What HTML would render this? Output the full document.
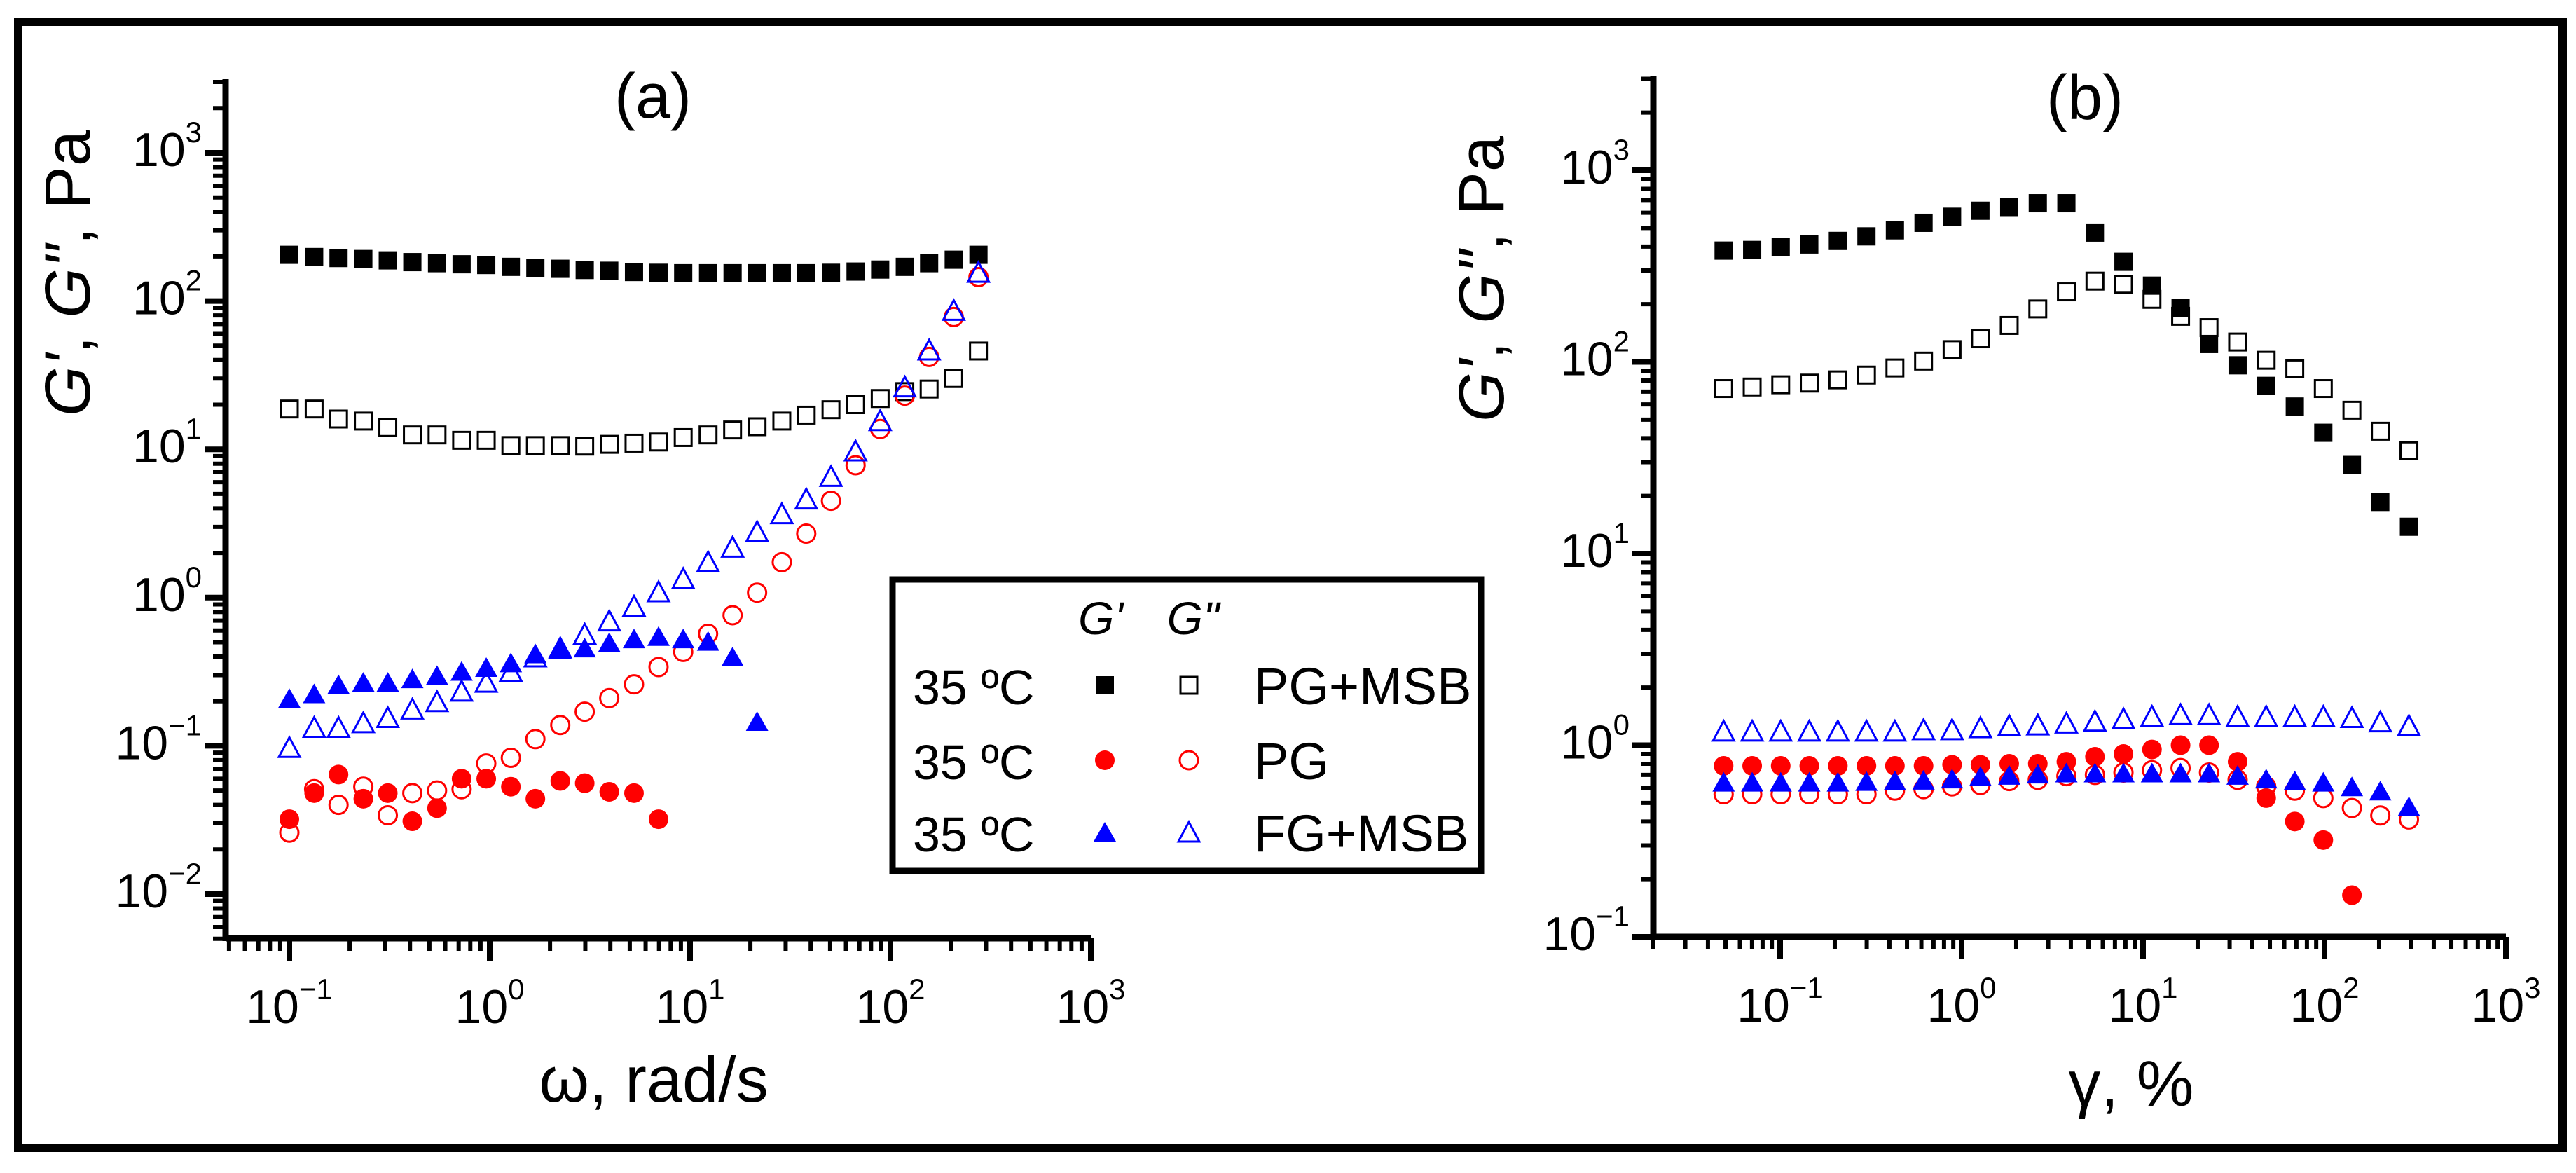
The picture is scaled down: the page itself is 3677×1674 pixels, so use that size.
<!DOCTYPE html>
<html><head><meta charset="utf-8"><style>
html,body{margin:0;padding:0;background:#fff}
svg{display:block}
text{font-family:"Liberation Sans",Arial,sans-serif;fill:#000}
</style></head><body>
<svg id="fig" width="3677" height="1674" viewBox="0 0 3677 1674" xmlns="http://www.w3.org/2000/svg">
<rect x="0" y="0" width="3677" height="1674" fill="#fff"/>
<rect x="26" y="31" width="3632" height="1607" fill="none" stroke="#000" stroke-width="12"/>
<g id="panelA"></g>
<g id="panelB"></g>
<g id="legend">
  <rect x="1274" y="827" width="840" height="416" fill="#fff" stroke="#000" stroke-width="9"/>
  <text x="1571" y="905" font-size="66" font-style="italic" text-anchor="middle">G'</text>
  <text x="1703" y="905" font-size="66" font-style="italic" text-anchor="middle">G"</text>
  <text x="1303" y="1005" font-size="70">35 ºC</text>
  <text x="1303" y="1112" font-size="70">35 ºC</text>
  <text x="1303" y="1215" font-size="70">35 ºC</text>
  <text x="1790" y="1005" font-size="74">PG+MSB</text>
  <text x="1790" y="1112" font-size="74">PG</text>
  <text x="1790" y="1215" font-size="74">FG+MSB</text>
  <g id="legendMarks"></g>
</g>
</svg>
<script>
// ---------- Panel (a): frequency sweep ----------
const freqA = [0.1,0.133,0.176,0.234,0.31,0.411,0.546,0.724,0.961,1.275,1.69,2.25,2.98,3.95,5.25,6.96,9.24,12.3,16.3,21.6,28.7,38.0,50.5,67,88.9,118,156,207,275];
const aPGMSB_Gp = [205,198,195,192,188,183,180,177,175,170,167,165,162,160,157,155,154,154,154,154,154,154,155,158,163,170,180,190,205];
const aPGMSB_Gpp = [18.7,18.7,16,15.5,14,12.5,12.5,11.5,11.5,10.6,10.6,10.6,10.5,10.8,11,11.2,12,12.5,13.5,14.2,15.5,17,18.5,20,22,24.5,25.5,30,46];
const aPG_Gp = [0.032,0.048,0.064,0.044,0.048,0.031,0.038,0.060,0.060,0.053,0.044,0.058,0.056,0.049,0.048,0.032];
const aPG_Gpp = [0.026,0.051,0.040,0.053,0.034,0.048,0.050,0.051,0.076,0.083,0.111,0.138,0.17,0.21,0.26,0.34,0.43,0.57,0.76,1.08,1.73,2.7,4.5,7.8,13.7,23,42,78,145];
const aFG_Gp = [0.21,0.226,0.26,0.27,0.27,0.285,0.30,0.32,0.34,0.365,0.42,0.45,0.46,0.50,0.53,0.55,0.53,0.51,0.40,0.147];
const aFG_Gpp = [0.098,0.134,0.134,0.144,0.156,0.178,0.20,0.235,0.27,0.32,0.40,0.46,0.57,0.70,0.88,1.1,1.35,1.75,2.2,2.8,3.7,4.65,6.6,9.8,15.7,26.5,47,87,157];

// ---------- Panel (b): strain sweep ----------
const strainB = [0.0488,0.0701,0.1007,0.1447,0.208,0.299,0.429,0.617,0.886,1.27,1.83,2.63,3.78,5.43,7.8,11.2,16.1,23.1,33.2,47.7,68.6,98.5,141.6,203,292];
const bPGMSB_Gp = [381,384,399,410,428,452,486,532,572,615,643,673,673,473,333,250,191,124,96,75,58.5,42.7,29,18.6,13.8];
const bPGMSB_Gpp = [72.6,74,76,77.5,80.6,85.4,93,101,116,132,155,189,232,264,254,212,173,151,127,102,92,72.6,56,43.5,34.4];
const bPG_Gp = [0.78,0.78,0.78,0.78,0.78,0.78,0.78,0.78,0.79,0.79,0.80,0.80,0.82,0.87,0.90,0.95,1.0,1.0,0.82,0.53,0.40,0.32,0.165];
const bPG_Gpp = [0.555,0.555,0.555,0.555,0.555,0.555,0.58,0.59,0.61,0.62,0.65,0.66,0.69,0.70,0.72,0.74,0.76,0.72,0.66,0.61,0.58,0.53,0.47,0.43,0.41];
const bFG_Gp = [0.645,0.645,0.645,0.645,0.645,0.65,0.655,0.66,0.67,0.69,0.70,0.71,0.72,0.72,0.72,0.72,0.72,0.72,0.70,0.67,0.655,0.645,0.61,0.58,0.48];
const bFG_Gpp = [1.19,1.19,1.19,1.19,1.19,1.19,1.19,1.21,1.21,1.24,1.27,1.28,1.31,1.34,1.38,1.42,1.45,1.45,1.42,1.42,1.42,1.42,1.40,1.33,1.27];

const tickDecadesA_x = [-1,0,1,2,3];
const tickDecadesA_y = [-2,-1,0,1,2,3];
const tickDecadesB_x = [-1,0,1,2,3];
const tickDecadesB_y = [-1,0,1,2,3];

const NS = "http://www.w3.org/2000/svg";
function mk(tag, attrs, parent){const e=document.createElementNS(NS,tag);for(const k in attrs)e.setAttribute(k,attrs[k]);parent.appendChild(e);return e;}
const lg = Math.log10;

const axA = {x0:322,x1:1557,y0:1339,y1:113,
  x:v=>413+(lg(v)+1)*286, y:v=>218+(3-lg(v))*211.6,
  xmin:-1.32,xmax:3,ymin:-2.301,ymax:3.49};
const axB = {x0:2360,x1:3577,y0:1337,y1:108,
  x:v=>2541+(lg(v)+1)*259, y:v=>243+(3-lg(v))*273.5,
  xmin:-1.70,xmax:3,ymin:-1,ymax:3.49};

function drawAxes(g, ax, decX, decY, tag){
  mk('line',{x1:ax.x0,y1:ax.y0,x2:ax.x1,y2:ax.y0,stroke:'#000','stroke-width':9,},g);
  mk('line',{x1:ax.x0,y1:ax.y0+4,x2:ax.x0,y2:ax.y1,stroke:'#000','stroke-width':9,},g);
  // x ticks
  for(let d=-3; d<=3; d++){
    for(let m=1;m<=9;m++){
      const L=d+lg(m); if(L<ax.xmin-0.001||L>ax.xmax+0.001) continue;
      const X=ax.x(Math.pow(10,L)); const major=m===1;
      const t=mk('line',{x1:X,y1:ax.y0,x2:X,y2:ax.y0+(major?32:18),stroke:'#000','stroke-width':major?8:6},g);
      
      
    }
  }
  for(let d=-3; d<=4; d++){
    for(let m=1;m<=9;m++){
      const L=d+lg(m); if(L<ax.ymin-0.001||L>ax.ymax) continue;
      const Y=ax.y(Math.pow(10,L)); const major=m===1;
      const t=mk('line',{x1:ax.x0,y1:Y,x2:ax.x0-(major?30:18),y2:Y,stroke:'#000','stroke-width':major?8:6},g);
      
      
    }
  }
  decX.forEach(d=>{
    const X=ax.x(Math.pow(10,d));
    const t=mk('text',{x:X,y:ax.y0+121,'font-size':68,'text-anchor':'middle'},g);
    
    
    t.textContent='10';
    const s=mk('tspan',{'font-size':42,dy:-34},t); s.textContent=(d<0?'−':'')+Math.abs(d);
  });
  decY.forEach(d=>{
    const Y=ax.y(Math.pow(10,d));
    const t=mk('text',{x:ax.x0-34,y:Y+19,'font-size':68,'text-anchor':'end'},g);
    
    
    t.textContent='10';
    const s=mk('tspan',{'font-size':42,dy:-34},t); s.textContent=(d<0?'−':'')+Math.abs(d);
  });
}

function marker(g, shape, fill, color, X, Y, name){
  let e;
  const sw = fill ? 0 : 3;
  const f = fill ? color : 'none';
  if(shape==='sq'){ const s=fill?26:24; e=mk('rect',{x:X-s/2,y:Y-s/2,width:s,height:s,fill:f,stroke:color,'stroke-width':sw},g); }
  else if(shape==='ci'){ e=mk('circle',{cx:X,cy:Y,r:fill?14:13,fill:f,stroke:color,'stroke-width':sw},g); }
  else { const w=fill?32:30,h=28; e=mk('polygon',{points:(X-w/2)+','+(Y+h/2)+' '+(X+w/2)+','+(Y+h/2)+' '+X+','+(Y-h/2),fill:f,stroke:color,'stroke-width':sw},g); }
  
  
  return e;
}
function series(g, ax, xs, ys, shape, fill, color, name){
  const sg=mk('g',{},g);
  
  
  ys.forEach((v,i)=>marker(sg,shape,fill,color,ax.x(xs[i]),ax.y(v),name+'-point'));
}

const gA=document.getElementById('panelA');
drawAxes(gA, axA, tickDecadesA_x, tickDecadesA_y, 'a');
series(gA,axA,freqA,aPGMSB_Gp,'sq',true,'#000','a-pgmsb-gprime');
series(gA,axA,freqA,aPGMSB_Gpp,'sq',false,'#000','a-pgmsb-gdoubleprime');
series(gA,axA,freqA,aPG_Gp,'ci',true,'#ff0000','a-pg-gprime');
series(gA,axA,freqA,aPG_Gpp,'ci',false,'#ff0000','a-pg-gdoubleprime');
series(gA,axA,freqA,aFG_Gp,'tr',true,'#0000ff','a-fgmsb-gprime');
series(gA,axA,freqA,aFG_Gpp,'tr',false,'#0000ff','a-fgmsb-gdoubleprime');

const gB=document.getElementById('panelB');
drawAxes(gB, axB, tickDecadesB_x, tickDecadesB_y, 'b');
series(gB,axB,strainB,bPGMSB_Gp,'sq',true,'#000','b-pgmsb-gprime');
series(gB,axB,strainB,bPGMSB_Gpp,'sq',false,'#000','b-pgmsb-gdoubleprime');
series(gB,axB,strainB,bPG_Gp,'ci',true,'#ff0000','b-pg-gprime');
series(gB,axB,strainB,bPG_Gpp,'ci',false,'#ff0000','b-pg-gdoubleprime');
series(gB,axB,strainB,bFG_Gp,'tr',true,'#0000ff','b-fgmsb-gprime');
series(gB,axB,strainB,bFG_Gpp,'tr',false,'#0000ff','b-fgmsb-gdoubleprime');

// titles and axis labels
function txt(g, attrs, content, name){
  const t=mk('text',attrs,g);
  
  
  t.innerHTML=content; return t;
}
txt(gA,{x:932,y:168,'font-size':90,'text-anchor':'middle'},'(a)','panel-a-title');
txt(gB,{x:2976,y:170,'font-size':90,'text-anchor':'middle'},'(b)','panel-b-title');
txt(gA,{x:933,y:1572,'font-size':92,'text-anchor':'middle'},'ω, rad/s','a-x-axis-title');
txt(gB,{x:3042,y:1578,'font-size':92,'text-anchor':'middle'},'γ, %','b-x-axis-title');
txt(gA,{x:0,y:0,'font-size':92,'text-anchor':'middle',transform:'translate(128,390) rotate(-90)'},'<tspan font-style="italic">G\'</tspan>, <tspan font-style="italic">G"</tspan>, Pa','a-y-axis-title');
txt(gB,{x:0,y:0,'font-size':92,'text-anchor':'middle',transform:'translate(2146,398) rotate(-90)'},'<tspan font-style="italic">G\'</tspan>, <tspan font-style="italic">G"</tspan>, Pa','b-y-axis-title');

// legend markers
const lm=document.getElementById('legendMarks');
marker(lm,'sq',true,'#000',1577,978,'legend-marker-pgmsb-gprime');
marker(lm,'sq',false,'#000',1697,978,'legend-marker-pgmsb-gdoubleprime');
marker(lm,'ci',true,'#ff0000',1577,1085,'legend-marker-pg-gprime');
marker(lm,'ci',false,'#ff0000',1697,1085,'legend-marker-pg-gdoubleprime');
marker(lm,'tr',true,'#0000ff',1577,1187,'legend-marker-fgmsb-gprime');
marker(lm,'tr',false,'#0000ff',1697,1187,'legend-marker-fgmsb-gdoubleprime');
</script>
</body></html>
